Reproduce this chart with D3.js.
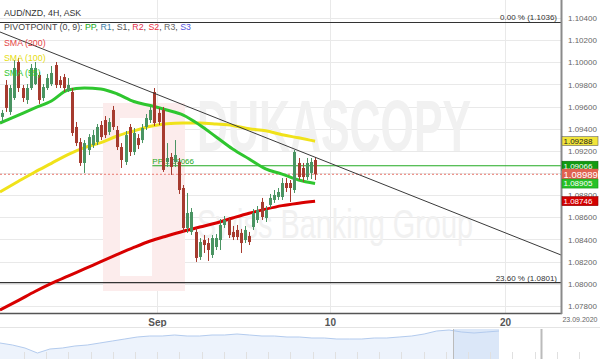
<!DOCTYPE html>
<html><head><meta charset="utf-8">
<script src="https://cdn.jsdelivr.net/npm/d3@7/dist/d3.min.js"></script>
<style>
body{margin:0;background:#fff;}
svg{display:block;font-family:"Liberation Sans",Arial,sans-serif;}
</style>
</head><body>
<svg id="c" width="600" height="359"></svg>
<script>
// ---------- DATA ----------
const opens = [1.09507,1.09795,1.09552,1.09678,1.10003,1.09768,1.09660,1.09768,1.09804,1.09886,
1.09678,1.09768,1.09804,1.09976,1.09840,1.09867,1.09750,1.09732,1.09416,1.09280,
1.09091,1.09208,1.09253,1.09280,1.09434,1.09479,1.09371,1.09570,1.09389,1.09235,
1.09100,1.09416,1.09190,1.09316,1.09298,1.09416,1.09479,1.09732,1.09543,1.09570,
1.09100,1.09145,1.09100,1.09100,1.08865,1.08504,1.08468,1.08468,1.08242,1.08395,
1.08368,1.08260,1.08332,1.08395,1.08531,1.08576,1.08468,1.08486,1.08459,1.08395,
1.08431,1.08513,1.08576,1.08739,1.08594,1.08712,1.08757,1.08784,1.08784,1.08910,
1.08910,1.08847,1.09091,1.09046,1.08964,1.09001,1.09118];
const highs = [1.09570,1.09840,1.09795,1.10021,1.10039,1.09795,1.09804,1.09985,1.10003,1.09913,
1.09804,1.09895,1.09967,1.10003,1.09876,1.09895,1.09858,1.09768,1.09461,1.09316,
1.09298,1.09352,1.09389,1.09443,1.09470,1.09515,1.09497,1.09606,1.09425,1.09271,
1.09380,1.09443,1.09407,1.09352,1.09443,1.09533,1.09597,1.09768,1.09588,1.09597,
1.09271,1.09181,1.09298,1.09136,1.08892,1.08820,1.08684,1.08504,1.08413,1.08440,
1.08413,1.08440,1.08449,1.08585,1.08612,1.08603,1.08522,1.08531,1.08495,1.08522,
1.08468,1.08675,1.08702,1.08775,1.08702,1.08811,1.08847,1.08865,1.08955,1.08955,
1.08937,1.09208,1.09136,1.09091,1.09136,1.09136,1.09145];
const lows = [1.09461,1.09552,1.09525,1.09660,1.09732,1.09642,1.09624,1.09750,1.09795,1.09624,
1.09651,1.09750,1.09786,1.09768,1.09768,1.09732,1.09732,1.09335,1.09244,1.09064,
1.09001,1.09163,1.09226,1.09253,1.09298,1.09316,1.09343,1.09389,1.09208,1.09046,
1.09073,1.09154,1.09163,1.09217,1.09271,1.09389,1.09452,1.09425,1.09434,1.09010,
1.09055,1.08983,1.09055,1.08811,1.08468,1.08459,1.08441,1.08197,1.08215,1.08278,
1.08206,1.08233,1.08305,1.08305,1.08504,1.08413,1.08395,1.08395,1.08278,1.08368,
1.08350,1.08486,1.08549,1.08576,1.08558,1.08684,1.08730,1.08757,1.08757,1.08829,
1.08739,1.08820,1.08937,1.08919,1.08937,1.08946,1.08937];
const closes = [1.09543,1.09588,1.09768,1.09949,1.09768,1.09678,1.09768,1.09949,1.09949,1.09660,
1.09777,1.09858,1.09904,1.09795,1.09795,1.09768,1.09795,1.09362,1.09271,1.09091,
1.09271,1.09325,1.09343,1.09416,1.09325,1.09343,1.09461,1.09416,1.09235,1.09118,
1.09343,1.09190,1.09362,1.09253,1.09407,1.09497,1.09570,1.09452,1.09461,1.09028,
1.09136,1.09055,1.09163,1.08847,1.08504,1.08639,1.08648,1.08233,1.08377,1.08350,
1.08305,1.08413,1.08413,1.08531,1.08576,1.08440,1.08422,1.08422,1.08368,1.08486,
1.08377,1.08639,1.08666,1.08603,1.08666,1.08775,1.08802,1.08829,1.08910,1.08865,
1.08865,1.09190,1.08964,1.08964,1.09091,1.09100,1.08989];

const smaIdx = [-0.5,4,8,12,16,20,24,28,32,36,40,44,48,52,56,60,64,68,72,76];
const sma55  = [1.09452,1.09524,1.09588,1.09651,1.09750,1.09768,1.09759,1.09714,1.09646,1.09610,
                1.09570,1.09524,1.09434,1.09326,1.09217,1.09127,1.09037,1.08991,1.08937,1.08905];
const sma100 = [1.08829,1.08926,1.09010,1.09088,1.09167,1.09230,1.09275,1.09335,1.09380,1.09422,
                1.09446,1.09452,1.09452,1.09443,1.09430,1.09400,1.09382,1.09346,1.09318,1.09288];
const sma200 = [1.07763,1.07850,1.07930,1.08003,1.08069,1.08134,1.08200,1.08265,1.08328,1.08386,
                1.08432,1.08475,1.08513,1.08549,1.08594,1.08637,1.08674,1.08706,1.08728,1.08746];

const trendIdx = [-0.485, 135.7];
const trendVal = [1.10274, 1.08260];
const fibLevels = [1.1036, 1.0801];
const fibLabels = ["0.00 % (1.1036)", "23.60 % (1.0801)"];
const pivotPP = 1.09066;
const lastPrice = 1.08989;
const yTicks = [1.078,1.080,1.082,1.084,1.086,1.088,1.092,1.094,1.096,1.098,1.100,1.102,1.104];
const yGrid = [1.078,1.080,1.082,1.084,1.086,1.088,1.090,1.092,1.094,1.096,1.098,1.100,1.102,1.104];
const xTickIdx = [37.6, 79.6, 122.1];
const xTickLabels = ["Sep", "10", "20"];
const tagValues = [1.09288, 1.09066, 1.08989, 1.08905, 1.08746];
const navValues = [16,14,11,6,10,11,13,14,16,18,20,22,23,23,24,23,23,24,24,25,24,23,23,22,22,21,21,20,20,20,21,21,22,23,25,28,29,27,26,27,28];

// ---------- SETUP ----------
const W = 600, H = 359, PW = 561, PH = 313;
const svg = d3.select("#c");
const x = d3.scaleLinear().domain([-0.485, 135.7]).range([0, PW]);
const y = d3.scaleLinear().domain([1.07736, 1.10563]).range([PH, 0]);

svg.append("defs").append("clipPath").attr("id","clip")
  .append("rect").attr("x",0).attr("y",0).attr("width",PW).attr("height",PH);

// grid
const grid = svg.append("g");
grid.selectAll("line.h").data(yGrid).join("line")
  .attr("x1",0).attr("x2",PW).attr("y1",d=>Math.round(y(d))+0.5).attr("y2",d=>Math.round(y(d))+0.5)
  .attr("stroke","#e9e9e9").attr("stroke-width",1);
grid.selectAll("line.v").data(xTickIdx).join("line")
  .attr("y1",0).attr("y2",PH).attr("x1",d=>Math.round(x(d))+0.5).attr("x2",d=>Math.round(x(d))+0.5)
  .attr("stroke","#e9e9e9").attr("stroke-width",1);

// watermark
const wm = svg.append("g");
wm.append("rect").attr("x",103).attr("y",103).attr("width",82).attr("height",188).attr("fill","#fcecec");
wm.append("rect").attr("x",120).attr("y",118).attr("width",32).attr("height",158).attr("fill","#ffffff");
wm.append("text").attr("transform","translate(197,151) scale(0.596,1)").attr("font-size",72).attr("font-weight","bold")
  .attr("fill","#f1f1f1").text("DUKASCOPY");
wm.append("text").attr("transform","translate(197,238) scale(0.722,1)").attr("font-size",40)
  .attr("fill","#f1f1f1").text("Swiss Banking Group");

const plot = svg.append("g").attr("clip-path","url(#clip)");

// fib lines
plot.selectAll("line.fib").data(fibLevels).join("line")
  .attr("x1",0).attr("x2",PW).attr("y1",d=>y(d)).attr("y2",d=>y(d))
  .attr("stroke","#333").attr("stroke-width",1.2);
svg.selectAll("text.fib").data(fibLevels).join("text")
  .attr("x",557).attr("y",d=>y(d)-2).attr("text-anchor","end")
  .attr("font-size",8).attr("fill","#333").text((d,i)=>fibLabels[i]);

// pivot PP
plot.append("line").attr("x1",x(36.5)).attr("x2",PW).attr("y1",y(pivotPP)).attr("y2",y(pivotPP))
  .attr("stroke","#22aa22").attr("stroke-width",1.2);
plot.append("text").attr("x",x(36.5)).attr("y",y(pivotPP)-2).attr("font-size",8).attr("fill","#22aa22")
  .text("PP 1.09066");

// current price dashed
plot.append("line").attr("x1",0).attr("x2",PW).attr("y1",y(lastPrice)).attr("y2",y(lastPrice))
  .attr("stroke","#e8776c").attr("stroke-width",1).attr("stroke-dasharray","2,2");

// SMA lines
const lineGen = d3.line().x((d,i)=>x(smaIdx[i])).y(d=>y(d)).curve(d3.curveMonotoneX);
plot.append("path").datum(sma200).attr("d",lineGen).attr("fill","none").attr("stroke","#d80000").attr("stroke-width",3);
plot.append("path").datum(sma100).attr("d",lineGen).attr("fill","none").attr("stroke","#f0e21a").attr("stroke-width",3);
plot.append("path").datum(sma55).attr("d",lineGen).attr("fill","none").attr("stroke","#2fc62f").attr("stroke-width",3);

// candles
const cd = opens.map((o,i)=>({i, o, h:highs[i], l:lows[i], c:closes[i]}));
const cg = plot.append("g");
const col = d=> d.c >= d.o ? "#4a9462" : "#a63b2f";
cg.selectAll("line").data(cd).join("line")
  .attr("x1",d=>Math.round(x(d.i))+0.5).attr("x2",d=>Math.round(x(d.i))+0.5)
  .attr("y1",d=>y(d.h)).attr("y2",d=>y(d.l)).attr("stroke",col).attr("stroke-width",1);
cg.selectAll("rect").data(cd).join("rect")
  .attr("x",d=>Math.round(x(d.i))-1).attr("width",3)
  .attr("y",d=>y(Math.max(d.o,d.c))).attr("height",d=>Math.max(1,Math.abs(y(d.o)-y(d.c))))
  .attr("fill",col);

// trendline
plot.append("line").attr("x1",x(trendIdx[0])).attr("x2",x(trendIdx[1]))
  .attr("y1",y(trendVal[0])).attr("y2",y(trendVal[1])).attr("stroke","#3a3a3a").attr("stroke-width",1);

// borders
svg.append("line").attr("x1",0).attr("x2",PW+1).attr("y1",PH+0.5).attr("y2",PH+0.5).attr("stroke","#555").attr("stroke-width",1.5);
svg.append("line").attr("x1",PW+0.5).attr("x2",PW+0.5).attr("y1",0).attr("y2",PH+1).attr("stroke","#8a8a8a").attr("stroke-width",2);

// y axis
const ya = svg.append("g").attr("transform",`translate(${PW+4},0)`)
  .call(d3.axisRight(y).tickValues(yTicks).tickFormat(d3.format(".5f")).tickSize(0));
ya.select(".domain").remove();
ya.attr("font-size",8);
ya.selectAll("text").attr("font-size",8).attr("fill","#666").attr("font-family","'Liberation Sans',Arial,sans-serif").attr("dx",0);

// x axis
const xa = svg.append("g").attr("transform",`translate(0,${PH+3})`)
  .call(d3.axisBottom(x).tickValues(xTickIdx).tickFormat((d,i)=>xTickLabels[i]).tickSize(0));
xa.select(".domain").remove();
xa.selectAll("text").attr("font-size",10).attr("fill","#555").attr("font-weight","bold")
  .attr("font-family","'Liberation Sans',Arial,sans-serif");
svg.append("text").attr("x",580).attr("y",322).attr("text-anchor","middle").attr("font-size",7).attr("fill","#666").text("23.09.2020");

// price tags
const tagStyle = [
  {bg:"#f1e43a", fg:"#222", fs:8, h:9, stroke:"#666"},
  {bg:"#119a11", fg:"#fff", fs:8, h:9, stroke:"#0a6a0a"},
  {bg:"#e0614f", fg:"#fff", fs:9.5, h:11, stroke:"none"},
  {bg:"#27c127", fg:"#fff", fs:8, h:9, stroke:"#1a9a1a"},
  {bg:"#d30000", fg:"#fff", fs:8, h:9, stroke:"#8a0000"}
];
const tg = svg.append("g");
tagValues.forEach((v,i)=>{
  const s = tagStyle[i], cy = y(v);
  tg.append("rect").attr("x",562).attr("y",cy - s.h/2).attr("width",36).attr("height",s.h)
    .attr("fill",s.bg).attr("stroke",s.stroke).attr("stroke-width",0.6);
  tg.append("text").attr("x",563.5).attr("y",cy).attr("dy","0.35em").attr("font-size",s.fs)
    .attr("fill",s.fg).text(d3.format(".5f")(v));
});

// navigator
const nav = svg.append("g");
nav.append("line").attr("x1",0).attr("x2",W).attr("y1",327.5).attr("y2",327.5).attr("stroke","#e4e4e4");
const nx = d3.scaleLinear().domain([0, navValues.length-1]).range([0, 499]);
const ny = d3.scaleLinear().domain([0, 30]).range([H, 329]);
nav.append("path").datum(navValues)
  .attr("d", d3.area().x((d,i)=>nx(i)).y0(H).y1(d=>ny(d)))
  .attr("fill","#edf3fc");
nav.append("rect").attr("x",453).attr("y",329).attr("width",46).attr("height",30).attr("fill","#dbe7f8");
nav.append("path").datum(navValues)
  .attr("d", d3.line().x((d,i)=>nx(i)).y(d=>ny(d)))
  .attr("fill","none").attr("stroke","#b3cbee").attr("stroke-width",1);
const navTicks = d3.range(24, 600, 22.2);
nav.selectAll("line.nt").data(navTicks).join("line")
  .attr("x1",d=>Math.round(d)+0.5).attr("x2",d=>Math.round(d)+0.5).attr("y1",352).attr("y2",H)
  .attr("stroke","#e0e0e0");
nav.append("line").attr("x1",453.5).attr("x2",453.5).attr("y1",329).attr("y2",H).attr("stroke","#bbb");
nav.append("line").attr("x1",541.5).attr("x2",541.5).attr("y1",329).attr("y2",H).attr("stroke","#bbb").attr("stroke-width",2);

// legend / header
const lg = svg.append("g").attr("font-size",8.8);
lg.append("text").attr("x",4).attr("y",16).attr("fill","#333").text("AUD/NZD, 4H, ASK");
const pv = lg.append("text").attr("x",4).attr("y",30);
[["PIVOTPOINT (0, 9): ","#444"],["PP","#22aa22"],[", ","#444"],["R1","#3b7ea6"],[", ","#444"],
 ["S1","#555"],[", ","#444"],["R2","#e0304a"],[", ","#444"],["S2","#ee3040"],[", ","#444"],
 ["R3","#666"],[", ","#444"],["S3","#5555dd"]].forEach(([t,c])=>pv.append("tspan").attr("fill",c).text(t));
lg.append("text").attr("x",4).attr("y",46).attr("fill","#e54545").text("SMA (200)");
lg.append("text").attr("x",4).attr("y",61).attr("fill","#e6dc10").text("SMA (100)");
lg.append("text").attr("x",4).attr("y",76).attr("fill","#2fc62f").text("SMA (55)");
</script>
</body></html>
